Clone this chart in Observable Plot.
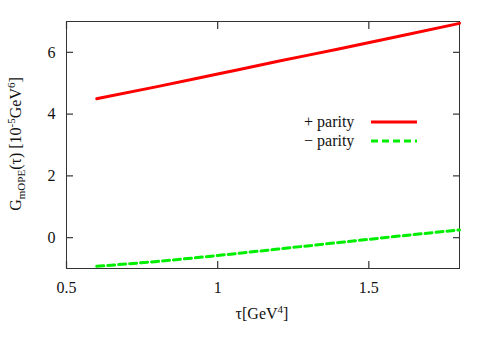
<!DOCTYPE html>
<html><head><meta charset="utf-8">
<script src="https://cdn.jsdelivr.net/npm/d3@7"></script>
<script src="https://cdn.jsdelivr.net/npm/@observablehq/plot@0.6"></script>
<style>
body{margin:0;background:#fff;}
#wrap{position:relative;width:491px;height:343px;font-family:"Liberation Serif",serif;}
#ylab{position:absolute;left:16px;top:144px;transform:translate(-50%,-50%) rotate(-90deg);white-space:nowrap;font-size:16px;color:#111;}
#xlab{position:absolute;left:262px;top:313px;transform:translate(-50%,-50%);white-space:nowrap;font-size:16px;color:#111;}
#legend{position:absolute;left:304px;top:112px;font-size:16px;color:#111;line-height:19px;}
#legend div{display:flex;align-items:center;}
#legend span{width:66px;display:inline-block;}
sub,sup{font-size:11px;}
</style>
</head><body>
<div id="wrap"><div id="chart"></div>
<div id="ylab">G<sub>mOPE</sub>(τ) [10<sup>-5</sup>GeV<sup>6</sup>]</div>
<div id="xlab">τ[GeV<sup>4</sup>]</div>
<div id="legend"></div>
</div>
<script>
const tau = [0.6, 0.8, 1.0, 1.2, 1.4, 1.6, 1.8];
const plusParity = [4.50, 4.89, 5.30, 5.71, 6.11, 6.52, 6.94];
const minusParity = [-0.93, -0.77, -0.58, -0.37, -0.16, 0.05, 0.25];
const xTicks = [0.5, 1, 1.5];
const yTicks = [0, 2, 4, 6];
const seriesNames = ["+ parity", "\u2212 parity"];
const colors = ["#ff0000", "#00ee00"];

const plus = tau.map((t,i)=>({t, v: plusParity[i]}));
const minus = tau.map((t,i)=>({t, v: minusParity[i]}));
const serif = '"Liberation Serif", serif';
const H = 343, MT = 21, MB = 75, W = 491, ML = 66, MR = 32;

const chart = Plot.plot({
  width: W, height: H,
  marginLeft: ML, marginRight: MR, marginTop: MT, marginBottom: MB,
  style: {fontFamily: serif, fontSize: "16px", color: "#111"},
  x: {domain: [0.5, 1.8]},
  y: {domain: [-1, 7]},
  marks: [
    Plot.axisX(xTicks, {anchor: "bottom", tickSize: 0, tickPadding: 13, label: null, fontSize: 16, fontFamily: serif, tickFormat: d => String(d)}),
    Plot.axisY(yTicks, {anchor: "left", tickSize: 0, tickPadding: 11, label: null, fontSize: 16, fontFamily: serif, tickFormat: d => String(d)}),
    Plot.axisX(xTicks, {anchor: "bottom", tickSize: 7, dy: -7, text: null, label: null, stroke: "#444", strokeWidth: 1.3}),
    Plot.axisX(xTicks, {anchor: "top", tickSize: 7, dy: 7, text: null, label: null, stroke: "#444", strokeWidth: 1.3}),
    Plot.axisY(yTicks, {anchor: "left", tickSize: 7, dx: 7, text: null, label: null, stroke: "#444", strokeWidth: 1.3}),
    Plot.axisY(yTicks, {anchor: "right", tickSize: 7, dx: -7, text: null, label: null, stroke: "#444", strokeWidth: 1.3}),
    Plot.frame({stroke: "#333", strokeWidth: 1}),
    Plot.line(plus, {x: "t", y: "v", stroke: colors[0], strokeWidth: 3, curve: "monotone-x"}),
    Plot.line(minus, {x: "t", y: "v", stroke: colors[1], strokeWidth: 3, strokeDasharray: "7,4", curve: "monotone-x"})
  ]
});
document.getElementById("chart").appendChild(chart);

const leg = document.getElementById("legend");
seriesNames.forEach((n,i)=>{
  const d = document.createElement("div");
  d.innerHTML = `<span>${n}</span><svg width="48" height="8"><line x1="1" x2="47" y1="4" y2="4" stroke="${colors[i]}" stroke-width="3" ${i===1?'stroke-dasharray="7,4"':''}/></svg>`;
  leg.appendChild(d);
});
</script>
</body></html>
